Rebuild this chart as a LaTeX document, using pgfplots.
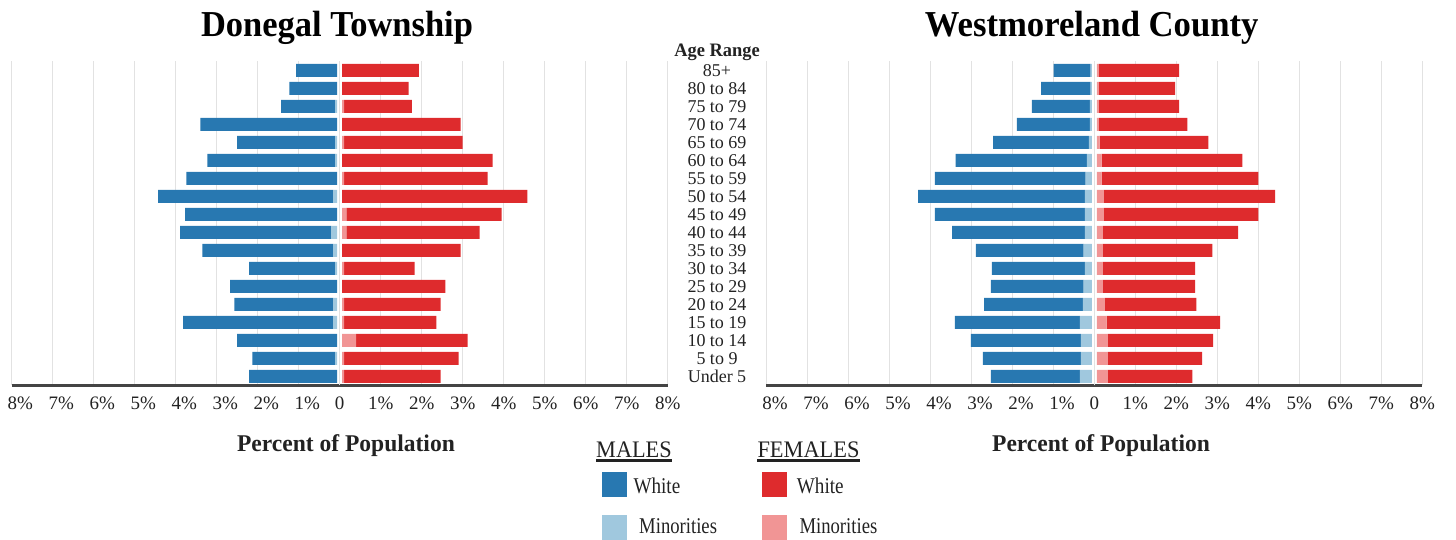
\documentclass[border=0pt]{standalone}
\usepackage{pgfplots}
\pgfplotsset{compat=1.18}
\usepackage{pgfplotstable}
\usepackage{fontspec}
\setmainfont{Liberation Serif}
\usepackage{graphicx}

\definecolor{mwc}{HTML}{2878B1}
\definecolor{mmc}{HTML}{A0C8DE}
\definecolor{fwc}{HTML}{DE2B2D}
\definecolor{fmc}{HTML}{F19595}
\definecolor{gridc}{HTML}{E2E2E2}
\definecolor{axc}{HTML}{444444}
\definecolor{zc}{HTML}{777777}
\definecolor{txt}{HTML}{222222}

% idx: 0 = Under 5 ... 17 = 85+ ; off = gap at the centre line
\pgfplotstableread{
idx off mm mw fm fw
17 0.06 0.00 1.00 0.00 1.87
16 0.06 0.00 1.17 0.00 1.62
15 0.06 0.05 1.32 0.05 1.65
14 0.06 0.00 3.34 0.00 2.89
13 0.06 0.05 2.39 0.05 2.89
12 0.06 0.05 3.12 0.00 3.67
11 0.06 0.00 3.68 0.05 3.50
10 0.06 0.10 4.27 0.00 4.52
9  0.06 0.00 3.71 0.10 3.79
8  0.06 0.15 3.68 0.10 3.25
7  0.06 0.10 3.19 0.00 2.89
6  0.06 0.05 2.10 0.05 1.72
5  0.06 0.00 2.61 0.00 2.52
4  0.06 0.10 2.41 0.05 2.35
3  0.06 0.10 3.66 0.05 2.25
2  0.06 0.00 2.44 0.34 2.72
1  0.06 0.05 2.02 0.05 2.79
0  0.06 0.00 2.15 0.05 2.35
}\donegal

\pgfplotstableread{
idx off mm mw fm fw
17 0.06 0.03 0.90 0.05 1.96
16 0.06 0.03 1.21 0.05 1.86
15 0.06 0.05 1.41 0.05 1.96
14 0.06 0.05 1.78 0.05 2.16
13 0.06 0.07 2.34 0.07 2.65
12 0.06 0.12 3.20 0.12 3.43
11 0.06 0.15 3.68 0.12 3.82
10 0.06 0.17 4.07 0.17 4.18
9  0.06 0.17 3.66 0.17 3.77
8  0.06 0.17 3.24 0.15 3.30
7  0.06 0.20 2.63 0.15 2.67
6  0.06 0.17 2.27 0.15 2.25
5  0.06 0.20 2.26 0.15 2.25
4  0.06 0.22 2.41 0.20 2.23
3  0.06 0.29 3.05 0.24 2.77
2  0.06 0.27 2.68 0.27 2.57
1  0.06 0.27 2.39 0.27 2.30
0  0.06 0.29 2.17 0.27 2.06
}\westmoreland

\pgfplotsset{
  pyr/.style={
    scale only axis, width=656pt, height=324pt,
    xmin=-8, xmax=8, ymin=-0.5, ymax=17.5,
    xbar stacked, bar width=13pt,
  },
  pyrframe/.style={
    pyr,
    axis x line=bottom, axis y line=right,
    x axis line style={-, line width=3pt, draw=axc},
    y axis line style={draw=none},
    major tick length=0pt,
    xtick={-8,-7,-6,-5,-4,-3,-2,-1,0,1,2,3,4,5,6,7,8},
    xticklabels={\hspace*{17.4pt}8\%,\hspace*{17.4pt}7\%,\hspace*{17.4pt}6\%,\hspace*{17.4pt}5\%,\hspace*{17.4pt}4\%,\hspace*{17.4pt}3\%,\hspace*{17.4pt}2\%,\hspace*{17.4pt}1\%,0,1\%,2\%,3\%,4\%,5\%,6\%,7\%,8\%},
    xticklabel style={font=\fontsize{19}{22}\selectfont, text=txt, anchor=base, yshift=-23.8pt, inner sep=0pt},
    xmajorgrids=true,
    major x grid style={gridc, line width=1.5pt},
    extra x ticks={0},
    extra x tick labels={},
    extra x tick style={grid=major, major grid style={zc, line width=2pt}},
    ytick={0,...,17},
  },
}

\begin{document}
\begin{tikzpicture}[x=1pt,y=1pt]
\useasboundingbox (0,0) rectangle (1456,540);

% ---------- Donegal Township ----------
\begin{axis}[pyrframe, at={(11.7pt,154.5pt)}, anchor=south west,
  yticklabels={Under 5,5 to 9,10 to 14,15 to 19,20 to 24,25 to 29,30 to 34,35 to 39,40 to 44,45 to 49,50 to 54,55 to 59,60 to 64,65 to 69,70 to 74,75 to 79,80 to 84,85+},
  yticklabel style={font=\fontsize{18}{20}\selectfont, text=txt, anchor=base, xshift=49.3pt, yshift=-6.2pt, inner sep=0pt}]
\addplot[draw=none, fill=none] table[x expr=-\thisrow{off}, y=idx]{\donegal};
\addplot[draw=none, fill=mmc] table[x expr=-\thisrow{mm}, y=idx]{\donegal};
\addplot[draw=none, fill=mwc] table[x expr=-\thisrow{mw}, y=idx]{\donegal};
\end{axis}
\begin{axis}[pyr, hide axis, at={(11.7pt,154.5pt)}, anchor=south west]
\addplot[draw=none, fill=none] table[x=off, y=idx]{\donegal};
\addplot[draw=none, fill=fmc] table[x=fm, y=idx]{\donegal};
\addplot[draw=none, fill=fwc] table[x=fw, y=idx]{\donegal};
\end{axis}

% ---------- Westmoreland County ----------
\begin{axis}[pyrframe, at={(766.3pt,154.5pt)}, anchor=south west, yticklabels={}]
\addplot[draw=none, fill=none] table[x expr=-\thisrow{off}, y=idx]{\westmoreland};
\addplot[draw=none, fill=mmc] table[x expr=-\thisrow{mm}, y=idx]{\westmoreland};
\addplot[draw=none, fill=mwc] table[x expr=-\thisrow{mw}, y=idx]{\westmoreland};
\end{axis}
\begin{axis}[pyr, hide axis, at={(766.3pt,154.5pt)}, anchor=south west]
\addplot[draw=none, fill=none] table[x=off, y=idx]{\westmoreland};
\addplot[draw=none, fill=fmc] table[x=fm, y=idx]{\westmoreland};
\addplot[draw=none, fill=fwc] table[x=fw, y=idx]{\westmoreland};
\end{axis}

% ---------- Titles ----------
\node[anchor=base, inner sep=0pt] at (337,503.5) {\fontsize{36.5}{40}\selectfont\bfseries\scalebox{0.945}[1]{Donegal Township}};
\node[anchor=base, inner sep=0pt] at (1091.7,503.5) {\fontsize{36.5}{40}\selectfont\bfseries\scalebox{0.95}[1]{Westmoreland County}};
\node[anchor=base, inner sep=0pt, text=txt] at (717,483.5) {\fontsize{19}{22}\selectfont\bfseries\scalebox{0.97}[1]{Age Range}};

\node[anchor=base, inner sep=0pt, text=txt] at (346,88) {\fontsize{24}{28}\selectfont\bfseries\scalebox{0.98}[1]{Percent of Population}};
\node[anchor=base, inner sep=0pt, text=txt] at (1101,88) {\fontsize{24}{28}\selectfont\bfseries\scalebox{0.98}[1]{Percent of Population}};

% ---------- Legend ----------
\node[anchor=base west, inner sep=0pt, text=txt] at (596,82.7) {\fontsize{23.7}{26}\selectfont\scalebox{0.94}[1]{MALES}};
\draw[line width=3pt, draw=txt] (596,79.3) -- (672,79.3);
\node[anchor=base west, inner sep=0pt, text=txt] at (757.3,82.7) {\fontsize{23.7}{26}\selectfont\scalebox{0.945}[1]{FEMALES}};
\draw[line width=3pt, draw=txt] (757.3,79.3) -- (860,79.3);

\fill[mwc] (602,43.3) rectangle (626.7,68);
\fill[mmc] (602,0) rectangle (626.7,25);
\fill[fwc] (762,43.3) rectangle (786.7,68);
\fill[fmc] (762,0) rectangle (786.7,25);

\node[anchor=base west, inner sep=0pt, text=txt] at (633.3,46.7) {\fontsize{22.5}{25}\selectfont\scalebox{0.85}[1]{White}};
\node[anchor=base west, inner sep=0pt, text=txt] at (639,6) {\fontsize{22.5}{25}\selectfont\scalebox{0.83}[1]{Minorities}};
\node[anchor=base west, inner sep=0pt, text=txt] at (796.7,46.7) {\fontsize{22.5}{25}\selectfont\scalebox{0.85}[1]{White}};
\node[anchor=base west, inner sep=0pt, text=txt] at (799.3,6) {\fontsize{22.5}{25}\selectfont\scalebox{0.83}[1]{Minorities}};
\end{tikzpicture}
\end{document}
